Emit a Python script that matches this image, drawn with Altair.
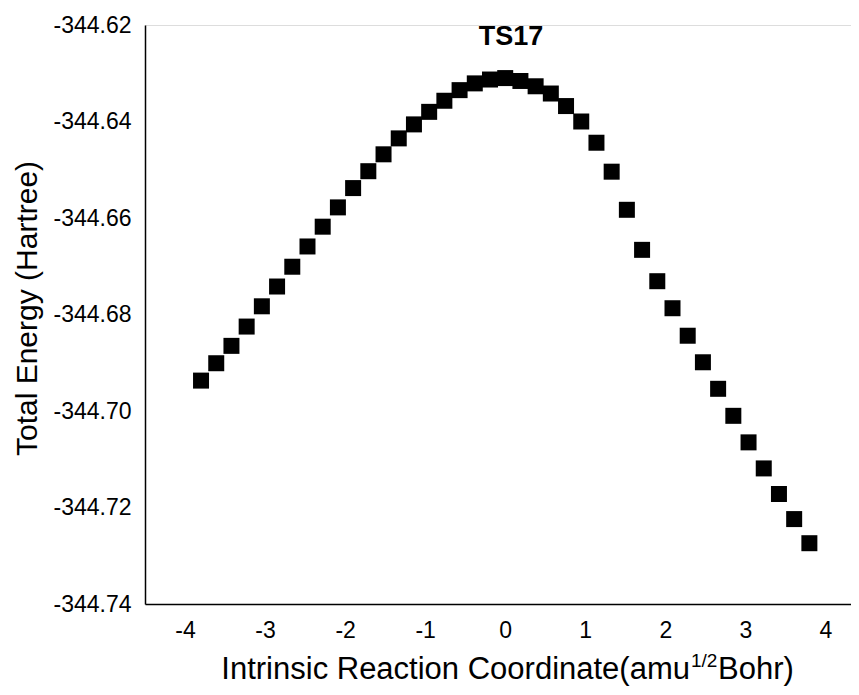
import altair as alt
import pandas as pd

# Intrinsic reaction coordinate (amu^1/2 Bohr)
irc = [-3.80, -3.61, -3.42, -3.23, -3.04, -2.85, -2.66, -2.47, -2.28, -2.09,
       -1.90, -1.71, -1.52, -1.33, -1.14, -0.95, -0.76, -0.57, -0.38, -0.19,
       0.00,
       0.19, 0.38, 0.57, 0.76, 0.95, 1.14, 1.33, 1.52, 1.71, 1.90,
       2.09, 2.28, 2.47, 2.66, 2.85, 3.04, 3.23, 3.42, 3.61, 3.80]

# Total energy (Hartree)
energy = [-344.6937, -344.6901, -344.6865, -344.6825, -344.6783, -344.6742,
          -344.6701, -344.6659, -344.6618, -344.6578, -344.6538, -344.6503,
          -344.6468, -344.6435, -344.6406, -344.6380, -344.6357, -344.6335,
          -344.6321, -344.6313,
          -344.6310,
          -344.6316, -344.6327, -344.6342, -344.6368, -344.6400, -344.6444,
          -344.6504, -344.6583, -344.6666, -344.6731, -344.6787, -344.6844,
          -344.6899, -344.6954, -344.7010, -344.7065, -344.7119, -344.7172,
          -344.7224, -344.7274]

x_ticks = [-4, -3, -2, -1, 0, 1, 2, 3, 4]
y_ticks = [-344.74, -344.72, -344.70, -344.68, -344.66, -344.64, -344.62]

title_text = ["TS17"]
x_title_main = ["Intrinsic Reaction Coordinate(amu"]
x_title_sup = ["1/2"]
x_title_end = ["Bohr)"]
y_title = "Total Energy (Hartree)"

FONT = "Liberation Sans"
HYPHEN_EXPR = "replace(datum.label, '\u2212', '-')"

df = pd.DataFrame({"irc": irc, "energy": energy})

points = alt.Chart(df).mark_square(size=256, color="black", opacity=1).encode(
    x=alt.X("irc:Q",
            scale=alt.Scale(domain=[-4.5, 4.32], nice=False, zero=False),
            axis=alt.Axis(values=x_ticks, format="d", title=None,
                          labelExpr=HYPHEN_EXPR,
                          ticks=False, tickSize=0, grid=False,
                          domainColor="black", domainWidth=1.5,
                          labelFont=FONT, labelFontSize=23, labelColor="black",
                          labelPadding=15, labelFlush=False)),
    y=alt.Y("energy:Q",
            scale=alt.Scale(domain=[-344.74, -344.62], nice=False, zero=False),
            axis=alt.Axis(values=y_ticks, format=".2f", title=y_title,
                          labelExpr=HYPHEN_EXPR,
                          ticks=False, tickSize=0, grid=False,
                          domainColor="black", domainWidth=1.5,
                          labelFont=FONT, labelFontSize=23, labelColor="black",
                          labelPadding=14, labelFlush=False,
                          titleFont=FONT, titleFontSize=30, titleFontWeight="normal",
                          titleColor="black", titleAngle=270,
                          titleAlign="center", titleBaseline="middle",
                          titleX=-118, titleY=283)),
)

title_mark = alt.Chart(pd.DataFrame({"t": title_text})).mark_text(
    font=FONT, fontSize=27, fontWeight="bold", color="black",
    align="center", baseline="alphabetic"
).encode(text="t:N", x=alt.value(366), y=alt.value(20))

xt1 = alt.Chart(pd.DataFrame({"t": x_title_main})).mark_text(
    font=FONT, fontSize=31, color="black", align="right", baseline="alphabetic"
).encode(text="t:N", x=alt.value(545), y=alt.value(654))

xt2 = alt.Chart(pd.DataFrame({"t": x_title_sup})).mark_text(
    font=FONT, fontSize=19, color="black", align="left", baseline="alphabetic"
).encode(text="t:N", x=alt.value(546), y=alt.value(642))

xt3 = alt.Chart(pd.DataFrame({"t": x_title_end})).mark_text(
    font=FONT, fontSize=31, color="black", align="left", baseline="alphabetic"
).encode(text="t:N", x=alt.value(573), y=alt.value(654))

chart = alt.layer(points, title_mark, xt1, xt2, xt3).properties(
    width=706, height=579,
    autosize=alt.AutoSizeParams(type="none"),
    padding={"left": 137, "top": 17, "right": 0, "bottom": 84},
).configure_view(stroke=None).configure(background="white")

chart.save("out.html", embed_options={"renderer": "svg", "actions": False})
